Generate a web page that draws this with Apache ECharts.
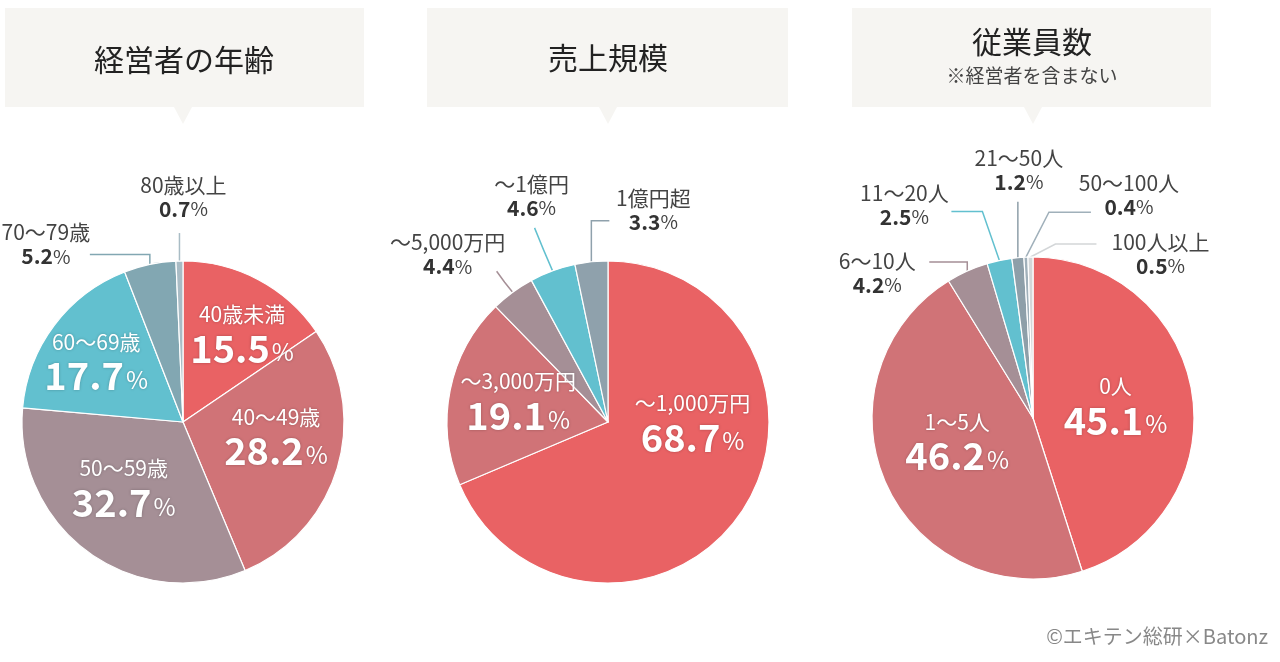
<!DOCTYPE html>
<html><head><meta charset="utf-8">
<script src="https://cdn.jsdelivr.net/npm/echarts@6/dist/echarts.min.js"></script>
<style>html,body{margin:0;padding:0;background:#fff}#c{width:1280px;height:662px}</style>
</head><body><div id="c"></div>
<script>
// ---- data ----
const ageNames = ['40歳未満', '40〜49歳', '50〜59歳', '60〜69歳', '70〜79歳', '80歳以上'];
const ageValues = [15.5, 28.2, 32.7, 17.7, 5.2, 0.7];
const salesNames = ['〜1,000万円', '〜3,000万円', '〜5,000万円', '〜1億円', '1億円超'];
const salesValues = [68.7, 19.1, 4.4, 4.6, 3.3];
const staffNames = ['0人', '1〜5人', '6〜10人', '11〜20人', '21〜50人', '50〜100人', '100人以上'];
const staffValues = [45.1, 46.2, 4.2, 2.5, 1.2, 0.4, 0.5];
const titles = ['経営者の年齢', '売上規模', '従業員数'];
const subTitle = '※経営者を含まない';
const credit = '©エキテン総研×Batonz';

// ---- styles ----
const ageColors = ['#e96264', '#d07377', '#a58f96', '#62c0cf', '#82a7b2', '#a9bcc5'];
const salesColors = ['#e96264', '#d07377', '#a58f96', '#62c0cf', '#8fa1ac'];
const staffColors = ['#e96264', '#d07377', '#a58f96', '#62c0cf', '#8e9fa9', '#a0b0ba', '#d3d6d8'];
const ageInside = [true, true, true, true, false, false];
const salesInside = [true, true, false, false, false];
const staffInside = [true, true, false, false, false, false, false];
// inside label nudges [dx,dy]
const ageNudge = [[20, -14], [13, -9], [-10, -1], [-20, -10], null, null];
const salesNudge = [[15, -45], [-8, -4], null, null, null];
const staffNudge = [[0, 1], [0, -11], null, null, null, null, null];
// outside labels: [elbow dx,dy], [end dx,dy], [label dx,dy] relative to slice edge point
const ageGuide = [null, null, null, null,
  [[0, -10], [-60, -10], [-104, -20]],
  [[0, -14], [0, -28], [4, -64]]];
const salesGuide = [null, null,
  [[-8, -10], [-16, -21], [-65, -38]],
  [[-9, -21], [-18, -43], [-21, -75]],
  [[0, -41], [18, -41], [62, -52]]];
const staffGuide = [null, null,
  [[0, -9], [-38, -9], [-90, 2]],
  [[-17, -49], [-48, -49], [-95, -56]],
  [[0, -28], [0, -56], [1, -88]],
  [[23, -45], [65, -45], [103, -62]],
  [[25, -13], [66, -13], [130, -3]]];

const FONT = '"Noto Sans CJK JP", "Noto Sans", sans-serif';
const R = 161;
const centers = [[183, 422], [608, 422], [1033, 418]];
const SH = { textShadowColor: 'rgba(0,0,0,0.25)', textShadowBlur: 3 };

function buildData(names, values, colors, inside) {
  return names.map((n, i) => ({
    name: n,
    value: values[i],
    itemStyle: { color: colors[i] },
    label: inside[i] ? {
      position: 'inside',
      formatter: p => '{n|' + p.name + '}\n{v|' + p.value.toFixed(1) + '}{p|%}',
      rich: {
        n: Object.assign({ fontFamily: FONT, fontSize: 21, color: '#fff', lineHeight: 28 }, SH),
        v: Object.assign({ fontFamily: FONT, fontSize: 38, fontWeight: 'bold', color: '#fff', lineHeight: 40 }, SH),
        p: Object.assign({ fontFamily: FONT, fontSize: 24, color: '#fff', lineHeight: 40, padding: [8, 0, 0, 2] }, SH)
      }
    } : {
      position: 'outside',
      formatter: p => '{n|' + p.name + '}\n{v|' + p.value.toFixed(1) + '}{p|%}',
      rich: {
        n: { fontFamily: FONT, fontSize: 21, color: '#444', lineHeight: 24, align: 'center' },
        v: { fontFamily: FONT, fontSize: 21, fontWeight: 'bold', color: '#333', lineHeight: 24 },
        p: { fontFamily: FONT, fontSize: 19, color: '#444', lineHeight: 24 }
      }
    },
    labelLine: { show: !inside[i], lineStyle: { color: colors[i], width: 1.5 } }
  }));
}

function makeLayout(nudges, guides) {
  return function (params) {
    const i = params.dataIndex;
    if (nudges[i]) return { dx: nudges[i][0], dy: nudges[i][1] };
    const g = guides[i];
    const pts = params.labelLinePoints;
    if (!g || !pts) return {};
    const e = pts[0];
    return {
      x: e[0] + g[2][0], y: e[1] + g[2][1],
      align: 'center', verticalAlign: 'middle',
      labelLinePoints: [[e[0], e[1]], [e[0] + g[0][0], e[1] + g[0][1]], [e[0] + g[1][0], e[1] + g[1][1]]]
    };
  };
}

function pieSeries(idx, names, values, colors, inside, nudges, guides) {
  return {
    type: 'pie',
    center: centers[idx],
    radius: [0, R],
    startAngle: 90,
    clockwise: true,
    silent: true,
    animation: false,
    avoidLabelOverlap: false,
    itemStyle: { borderColor: '#fff', borderWidth: 1.2 },
    label: { show: true },
    labelLine: { length: 10, length2: 10 },
    labelLayout: makeLayout(nudges, guides),
    data: buildData(names, values, colors, inside)
  };
}

function bubble(x0, x1, cx) {
  return [
    { type: 'rect', shape: { x: x0, y: 8, width: x1 - x0, height: 99 }, style: { fill: '#f6f5f2' }, silent: true },
    { type: 'polygon', shape: { points: [[cx - 9, 107], [cx + 9, 107], [cx, 124]] }, style: { fill: '#f6f5f2' }, silent: true }
  ];
}

const graphics = [].concat(
  bubble(5, 364, 183), bubble(427, 788, 608), bubble(852, 1211, 1033),
  [
    { type: 'text', x: 184, y: 60, style: { text: titles[0], font: '30px ' + FONT, fill: '#222', align: 'center', verticalAlign: 'middle' } },
    { type: 'text', x: 608, y: 58, style: { text: titles[1], font: '30px ' + FONT, fill: '#222', align: 'center', verticalAlign: 'middle' } },
    { type: 'text', x: 1032, y: 42, style: { text: titles[2], font: '30px ' + FONT, fill: '#222', align: 'center', verticalAlign: 'middle' } },
    { type: 'text', x: 1032, y: 76, style: { text: subTitle, font: '19px ' + FONT, fill: '#444', align: 'center', verticalAlign: 'middle' } },
    { type: 'text', x: 1268, y: 636, style: { text: credit, font: '20px ' + FONT, fill: '#888', align: 'right', verticalAlign: 'middle' } }
  ]
);

const chart = echarts.init(document.getElementById('c'), null, { renderer: 'canvas' });
chart.setOption({
  backgroundColor: '#fff',
  animation: false,
  graphic: graphics,
  series: [
    pieSeries(0, ageNames, ageValues, ageColors, ageInside, ageNudge, ageGuide),
    pieSeries(1, salesNames, salesValues, salesColors, salesInside, salesNudge, salesGuide),
    pieSeries(2, staffNames, staffValues, staffColors, staffInside, staffNudge, staffGuide)
  ]
});
</script></body></html>
